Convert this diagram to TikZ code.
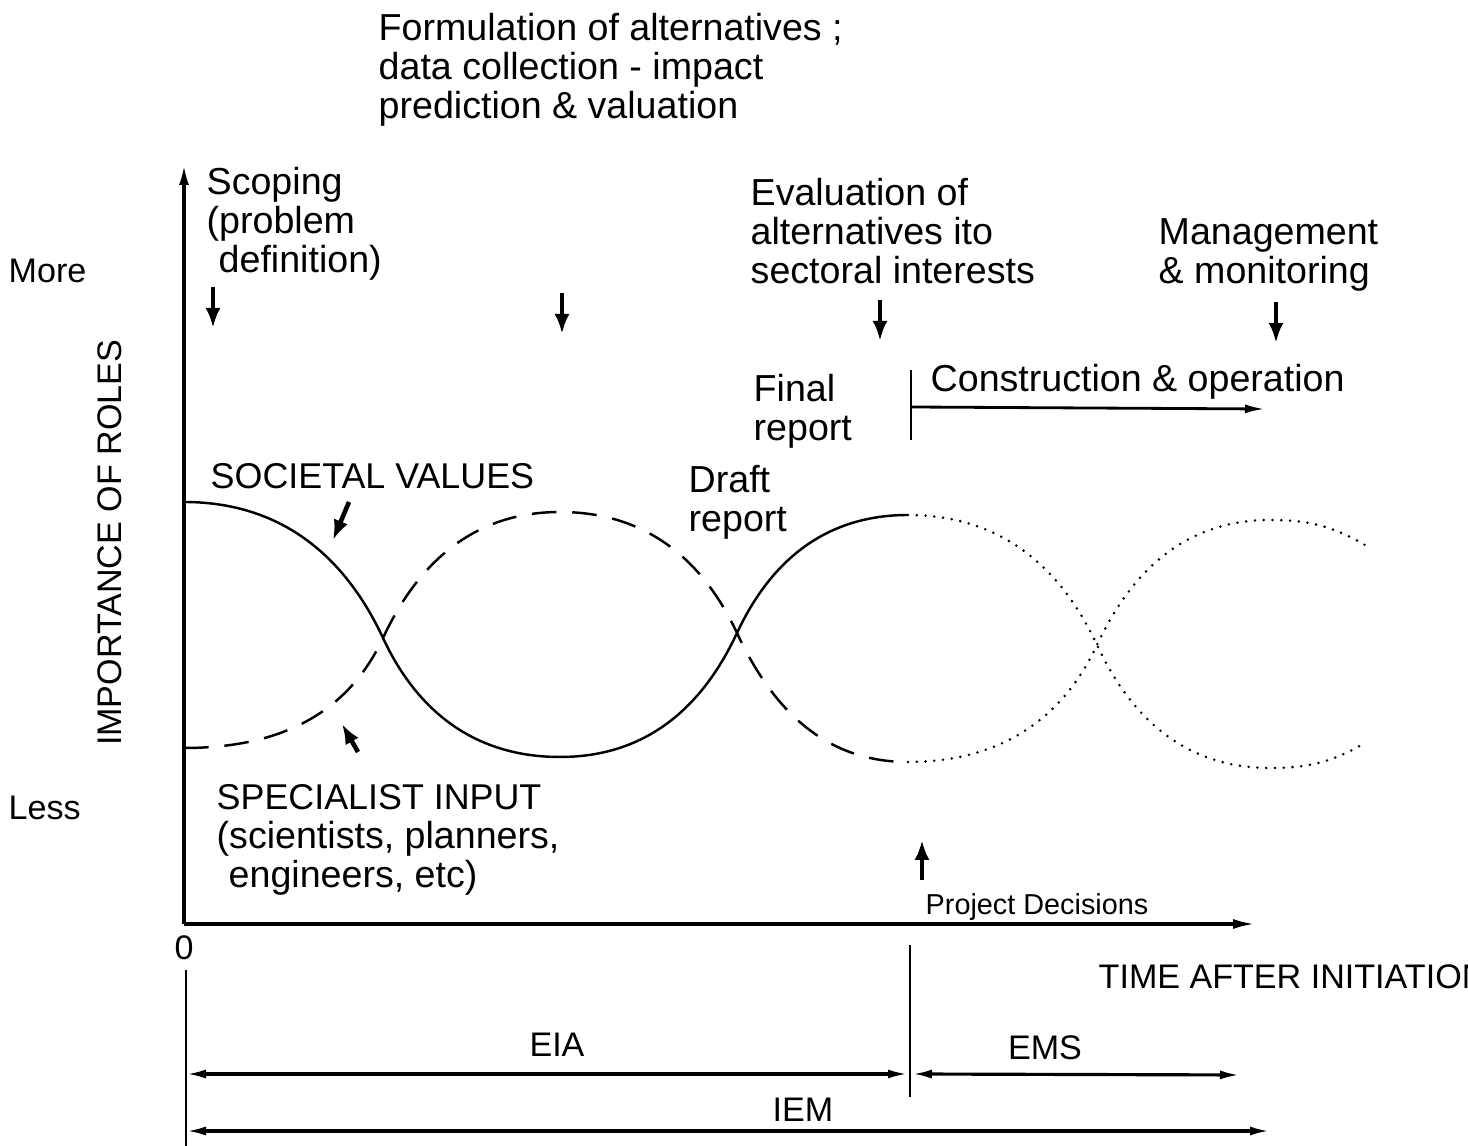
\documentclass[tikz,border=0pt]{standalone}
\usepackage{fontspec}
\setmainfont{Liberation Sans}
\usepackage{tikz}
\usetikzlibrary{arrows.meta}

\begin{document}
\begin{tikzpicture}[
    txt/.style={inner sep=0pt, align=left, anchor=north west, font=\fontsize{10.7}{11.1}\selectfont},
    lbl/.style={inner sep=0pt, font=\fontsize{9.7}{11}\selectfont},
    pointer/.style={-{Latex[length=0.2cm,width=0.15cm]}, line width=1.3pt},
    span/.style={{Latex[length=0.2cm,width=0.09cm]}-{Latex[length=0.2cm,width=0.09cm]}, line width=0.9pt},
    curve/.style={line width=0.7pt}]

   \clip (0,0) rectangle (14.68,11.46);

   % axes
   \coordinate (origin) at (1.84,2.22);
   \coordinate (ytop) at (1.84,9.81);
   \coordinate (xend) at (12.55,2.22);
   \draw[line width=0.9pt, -{Latex[length=0.2cm,width=0.1cm]}] (origin) -- (ytop);
   \draw[line width=0.9pt, -{Latex[length=0.22cm,width=0.1cm]}] (origin) -- (xend);

   \node[lbl, anchor=west] (more) at (0.08,8.75) {More};
   \node[lbl, anchor=west] (less) at (0.08,3.38) {Less};
   \node[lbl, rotate=90] (roles) at (1.10,6.03) {IMPORTANCE OF ROLES};

   % stages
   \node[txt] (formulation) at (3.78,11.33) {Formulation of alternatives ;\\data collection - impact\\prediction \& valuation};
   \node[txt] (scoping) at (2.06,9.79) {Scoping\\(problem\\\hspace{0.12cm}definition)};
   \node[txt] (evaluation) at (7.50,9.68) {Evaluation of\\alternatives ito\\sectoral interests};
   \node[txt] (management) at (11.58,9.28) {Management\\\& monitoring};
   \node[txt] (construction) at (9.30,7.82) {Construction \& operation};
   \node[txt] (final) at (7.53,7.72) {Final\\report};
   \node[txt] (draft) at (6.88,6.81) {Draft\\report};
   \node[txt, font=\fontsize{10.2}{11.1}\selectfont] (societal) at (2.10,6.83) {SOCIETAL VALUES};
   \node[txt] (specialist) at (2.16,3.62) {{\fontsize{10.2}{11.1}\selectfont SPECIALIST INPUT}\\(scientists, planners,\\\hspace{0.12cm}engineers, etc)};
   \node[txt, font=\fontsize{8.2}{10}\selectfont] (decisions) at (9.25,2.53) {Project Decisions};

   \coordinate (s1) at (2.13,8.59);  \coordinate (e1) at (2.13,8.18);
   \coordinate (s2) at (5.62,8.53);  \coordinate (e2) at (5.62,8.12);
   \coordinate (s3) at (8.80,8.46);  \coordinate (e3) at (8.80,8.05);
   \coordinate (s4) at (12.76,8.44); \coordinate (e4) at (12.76,8.03);
   \foreach \i in {1,...,4}
      \draw[pointer] (s\i) -- (e\i);

   \coordinate (tick top) at (9.11,7.76);
   \coordinate (tick bottom) at (9.11,7.06);
   \coordinate (run start) at (9.11,7.39);
   \coordinate (run end) at (12.65,7.37);
   \draw[line width=0.7pt] (tick top) -- (tick bottom);
   \draw[line width=0.8pt, -{Latex[length=0.2cm,width=0.09cm]}] (run start) -- (run end);

   \coordinate (sv tail) at (3.49,6.44); \coordinate (sv head) at (3.33,6.06);
   \coordinate (si tail) at (3.58,3.94); \coordinate (si head) at (3.42,4.22);
   \coordinate (pd tail) at (9.22,2.66); \coordinate (pd head) at (9.22,3.06);
   \draw[pointer] (sv tail) -- (sv head);
   \draw[pointer] (si tail) -- (si head);
   \draw[pointer] (pd tail) -- (pd head);

   % societal values / specialist input
   \draw[curve] (1.84,6.44) to[out=0,in=115] (3.83,5.08) to[out=-65,in=180] (5.60,3.89)
      to[out=0,in=-115] (7.37,5.13) to[out=65,in=180] (9.08,6.31);
   \draw[curve, dash pattern=on 7pt off 4.5pt] (1.84,3.98) to[out=0,in=-115] (3.83,5.08)
      to[out=65,in=180] (5.60,6.34) to[out=0,in=115] (7.37,5.13) to[out=-65,in=180] (9.08,3.84);
   \draw[line width=0.8pt, line cap=round, dash pattern=on 0pt off 2.5pt] (9.08,6.31) to[out=0,in=115] (10.97,5.01)
      to[out=-65,in=180] (12.70,3.78) to[out=0,in=-150] (13.65,4.03);
   \draw[line width=0.8pt, line cap=round, dash pattern=on 0pt off 2.5pt] (9.08,3.84) to[out=0,in=-115] (10.97,5.01)
      to[out=65,in=180] (12.70,6.26) to[out=0,in=150] (13.65,6.01);

   % time line
   \node[lbl] (zero) at (1.84,1.98) {0};
   \node[lbl, anchor=west] (time) at (10.98,1.69) {TIME AFTER INITIATION};
   \coordinate (t0 top) at (1.86,1.76);  \coordinate (t0 bottom) at (1.86,0);
   \coordinate (pd top) at (9.10,2.01);  \coordinate (pd bottom) at (9.10,0.49);
   \draw[line width=0.8pt] (t0 top) -- (t0 bottom);
   \draw[line width=0.8pt] (pd top) -- (pd bottom);

   \coordinate (eia a) at (1.86,0.72);  \coordinate (eia b) at (9.08,0.72);
   \coordinate (ems a) at (9.12,0.72);  \coordinate (ems b) at (12.40,0.71);
   \coordinate (iem a) at (1.86,0.15);  \coordinate (iem b) at (12.70,0.15);
   \draw[span] (eia a) -- (eia b);
   \draw[span] (ems a) -- (ems b);
   \draw[span] (iem a) -- (iem b);
   \node[lbl] (eia) at (5.57,1.01) {EIA};
   \node[lbl] (ems) at (10.45,0.98) {EMS};
   \node[lbl] (iem) at (8.03,0.36) {IEM};

\end{tikzpicture}
\end{document}
